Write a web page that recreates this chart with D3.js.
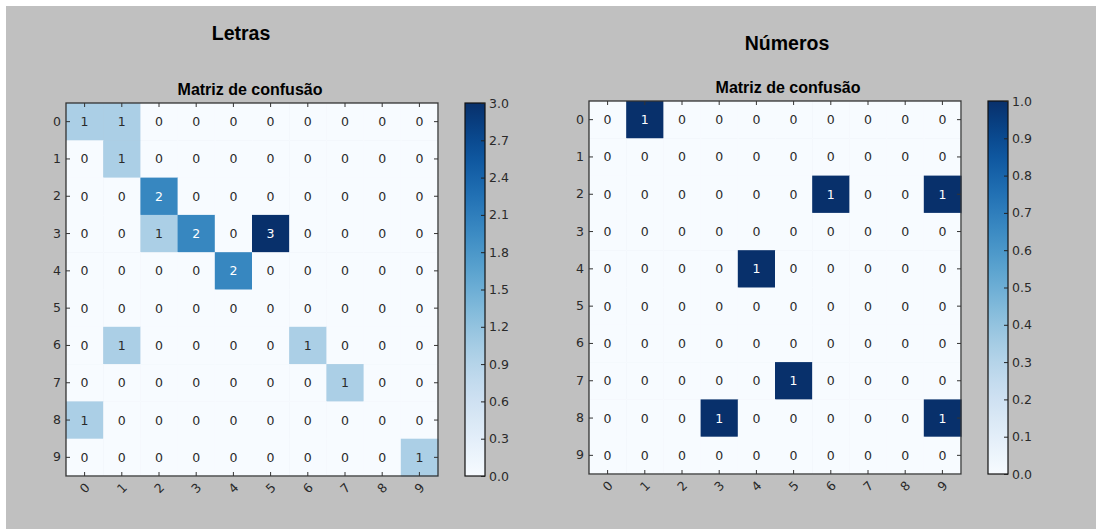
<!DOCTYPE html>
<html>
<head>
<meta charset="utf-8">
<script src="https://cdn.jsdelivr.net/npm/d3@7"></script>
<style>
html,body{margin:0;padding:0;background:#fff;}
svg{display:block;}
</style>
</head>
<body>
<script>
// ---- data ----
const classes = ["0","1","2","3","4","5","6","7","8","9"];
const figureTitles = ["Letras", "Números"];
const subTitle = "Matriz de confusão";
const letrasMatrix = [
  [1,1,0,0,0,0,0,0,0,0],
  [0,1,0,0,0,0,0,0,0,0],
  [0,0,2,0,0,0,0,0,0,0],
  [0,0,1,2,0,3,0,0,0,0],
  [0,0,0,0,2,0,0,0,0,0],
  [0,0,0,0,0,0,0,0,0,0],
  [0,1,0,0,0,0,1,0,0,0],
  [0,0,0,0,0,0,0,1,0,0],
  [1,0,0,0,0,0,0,0,0,0],
  [0,0,0,0,0,0,0,0,0,1]
];
const numerosMatrix = [
  [0,1,0,0,0,0,0,0,0,0],
  [0,0,0,0,0,0,0,0,0,0],
  [0,0,0,0,0,0,1,0,0,1],
  [0,0,0,0,0,0,0,0,0,0],
  [0,0,0,0,1,0,0,0,0,0],
  [0,0,0,0,0,0,0,0,0,0],
  [0,0,0,0,0,0,0,0,0,0],
  [0,0,0,0,0,1,0,0,0,0],
  [0,0,0,1,0,0,0,0,0,1],
  [0,0,0,0,0,0,0,0,0,0]
];
const letrasColorbarTicks = [0,0.3,0.6,0.9,1.2,1.5,1.8,2.1,2.4,2.7,3.0];
const numerosColorbarTicks = [0,0.1,0.2,0.3,0.4,0.5,0.6,0.7,0.8,0.9,1.0];

// ---- layout ----
const W = 1096, H = 529;
const svg = d3.select("body").append("svg").attr("width", W).attr("height", H);
svg.append("rect").attr("x",6).attr("y",6).attr("width",W-6).attr("height",H-6).attr("fill","#c0c0c0");

const defs = svg.append("defs");
const labelFont = "'DejaVu Sans', sans-serif";
const titleFont = "'Liberation Sans', Arial, sans-serif";
const tickColor = "#2a2a2a";

function panel(cfg) {
  const {matrix, cbTicks, x0, x1, y0, y1, cbx0, cbx1, title, titleX, titleY, subX, id} = cfg;
  const vmax = d3.max(matrix.flat());
  const color = d3.scaleSequential(d3.interpolateBlues).domain([0, vmax]);
  const x = d3.scaleBand().domain(classes).range([x0, x1]);
  const y = d3.scaleBand().domain(classes).range([y0, y1]);
  const g = svg.append("g");

  svg.append("text").attr("x", titleX).attr("y", titleY).attr("text-anchor","middle")
    .attr("font-family", titleFont).attr("font-weight","bold").attr("font-size", 19.5)
    .attr("fill","#000").text(title);
  svg.append("text").attr("x", subX).attr("y", y0 - 8).attr("text-anchor","middle")
    .attr("font-family", titleFont).attr("font-weight","bold").attr("font-size", 16)
    .attr("fill","#000").text(subTitle);

  const cells = [];
  matrix.forEach((row, i) => row.forEach((v, j) => cells.push({i, j, v})));

  g.selectAll("rect.cell").data(cells).join("rect")
    .attr("class","cell")
    .attr("x", d => x(classes[d.j]))
    .attr("y", d => y(classes[d.i]))
    .attr("width", x.bandwidth() + 0.5)
    .attr("height", y.bandwidth() + 0.5)
    .attr("fill", d => color(d.v));

  g.selectAll("text.val").data(cells).join("text")
    .attr("class","val")
    .attr("x", d => x(classes[d.j]) + x.bandwidth()/2)
    .attr("y", d => y(classes[d.i]) + y.bandwidth()/2)
    .attr("text-anchor","middle").attr("dominant-baseline","central")
    .attr("font-family", labelFont).attr("font-size", 12.5)
    .attr("fill", d => d.v > vmax/2 ? "#fff" : tickColor)
    .text(d => d.v);

  const left = g.append("g").attr("transform", `translate(${x0},0)`)
    .call(d3.axisLeft(y).tickSize(-4).tickPadding(5));
  const right = g.append("g").attr("transform", `translate(${x1},0)`)
    .call(d3.axisRight(y).tickSize(-4).tickFormat(""));
  const top = g.append("g").attr("transform", `translate(0,${y0})`)
    .call(d3.axisTop(x).tickSize(-4).tickFormat(""));
  const bottom = g.append("g").attr("transform", `translate(0,${y1})`)
    .call(d3.axisBottom(x).tickSize(-4).tickFormat(""));
  [left, right, top, bottom].forEach(a => {
    a.select(".domain").remove();
    a.selectAll(".tick line").attr("stroke", "#333");
  });
  left.selectAll(".tick text").attr("font-family", labelFont).attr("font-size", 12.5).attr("fill", tickColor);

  g.selectAll("text.xlab").data(classes).join("text")
    .attr("class","xlab")
    .attr("transform", d => `translate(${x(d) + x.bandwidth()/2},${y1 + 12}) rotate(-45)`)
    .attr("text-anchor","middle").attr("dominant-baseline","central")
    .attr("font-family", labelFont).attr("font-size", 12.5).attr("fill", tickColor)
    .text(d => d);

  g.append("rect").attr("x", x0).attr("y", y0).attr("width", x1 - x0).attr("height", y1 - y0)
    .attr("fill","none").attr("stroke","#333").attr("stroke-width",1.3);

  const grad = defs.append("linearGradient").attr("id", id)
    .attr("x1","0").attr("y1","1").attr("x2","0").attr("y2","0");
  d3.range(0, 1.0001, 0.05).forEach(t => {
    grad.append("stop").attr("offset", t).attr("stop-color", d3.interpolateBlues(t));
  });
  const cb = d3.scaleLinear().domain([0, vmax]).range([y1, y0]);
  g.append("rect").attr("x", cbx0).attr("y", y0).attr("width", cbx1 - cbx0).attr("height", y1 - y0)
    .attr("fill", `url(#${id})`).attr("stroke","#111").attr("stroke-width",1.2);
  const cbAxis = g.append("g").attr("transform", `translate(${cbx1},0)`)
    .call(d3.axisRight(cb).tickValues(cbTicks).tickFormat(d3.format(".1f")).tickSize(-4).tickPadding(4));
  cbAxis.select(".domain").remove();
  cbAxis.selectAll(".tick line").attr("stroke","#222");
  cbAxis.selectAll(".tick text").attr("font-family", labelFont).attr("font-size", 12.5).attr("fill", tickColor);
}

panel({matrix: letrasMatrix, cbTicks: letrasColorbarTicks, x0: 66, x1: 438, y0: 103, y1: 476,
  cbx0: 465, cbx1: 485, title: figureTitles[0], titleX: 241, titleY: 40, subX: 250, id: "gradL"});
panel({matrix: numerosMatrix, cbTicks: numerosColorbarTicks, x0: 589, x1: 961, y0: 101, y1: 474,
  cbx0: 988, cbx1: 1008, title: figureTitles[1], titleX: 787, titleY: 50, subX: 788, id: "gradN"});
</script>
</body>
</html>
